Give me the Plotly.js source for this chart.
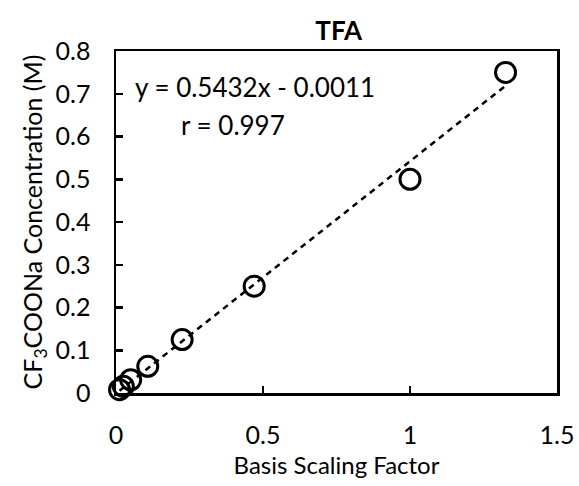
<!DOCTYPE html>
<html><head><meta charset="utf-8">
<script src="https://cdn.plot.ly/plotly-3.0.1.min.js"></script>
<style>html,body{margin:0;padding:0;background:#fff}#c{width:579px;height:486px}</style>
</head><body><div id="c"></div>
<script>
const basisFactor = [0.012, 0.025, 0.05, 0.108, 0.225, 0.47, 1.0, 1.325];
const concentration = [0.0078, 0.0156, 0.031, 0.0625, 0.125, 0.25, 0.5, 0.75];
const fitSlope = 0.5432;
const fitIntercept = -0.0011;
const fitLabel = ['y = 0.5432x - 0.0011', 'r = 0.997'];
const xTicks = [0, 0.5, 1, 1.5];
const xTickText = ['0', '0.5', '1', '1.5'];
const yTicks = [0, 0.1, 0.2, 0.3, 0.4, 0.5, 0.6, 0.7, 0.8];
const yTickText = ['0', '0.1', '0.2', '0.3', '0.4', '0.5', '0.6', '0.7', '0.8'];

const xmin = Math.min(...basisFactor), xmax = Math.max(...basisFactor);
const fitX = [xmin, xmax];
const fitY = fitX.map(x => fitSlope * x + fitIntercept);

const font = "Lato";
const traces = [
  {x: fitX, y: fitY, mode: 'lines', type: 'scatter',
   line: {color: '#000', width: 2.5, dash: '6px,5px'}, hoverinfo: 'skip', cliponaxis: false},
  {x: basisFactor, y: concentration, mode: 'markers', type: 'scatter',
   marker: {symbol: 'circle-open', size: 20, color: '#000', line: {width: 3, color: '#000'}},
   cliponaxis: false}
];
const axisCommon = {
  showgrid: false, zeroline: false, showline: true, linecolor: '#000', linewidth: 2.5,
  mirror: true, ticks: 'inside', ticklen: 7, tickwidth: 2.5, tickcolor: '#000',
  tickfont: {family: font, size: 25, color: '#000'}, ticklabelstandoff: 18
};
const layout = {
  width: 579, height: 486,
  margin: {l: 116, r: 22, t: 51, b: 93},
  paper_bgcolor: '#fff', plot_bgcolor: '#fff',
  showlegend: false,
  title: {text: '<b>TFA</b>', font: {family: font, size: 26, color: '#000'},
          x: 0.585, xanchor: 'center', y: 0.937, yanchor: 'middle'},
  xaxis: Object.assign({}, axisCommon, {
    range: [0, 1.5], tickvals: xTicks, ticktext: xTickText,
    title: {text: 'Basis Scaling Factor', font: {family: font, size: 24, color: '#000'}, standoff: 10}
  }),
  yaxis: Object.assign({}, axisCommon, {
    range: [0, 0.8], tickvals: yTicks, ticktext: yTickText,
    title: {text: 'CF<sub>3</sub>COONa Concentration (M)', font: {family: font, size: 25, color: '#000'}, standoff: 6}
  }),
  annotations: [
    {text: fitLabel[0], xref: 'paper', yref: 'paper', x: 0.039, y: 0.895, xanchor: 'left', yanchor: 'middle',
     showarrow: false, font: {family: font, size: 26, color: '#000'}},
    {text: fitLabel[1], xref: 'paper', yref: 'paper', x: 0.143, y: 0.784, xanchor: 'left', yanchor: 'middle',
     showarrow: false, font: {family: font, size: 26, color: '#000'}}
  ]
};
Plotly.newPlot('c', traces, layout, {displayModeBar: false, staticPlot: true});
</script></body></html>
